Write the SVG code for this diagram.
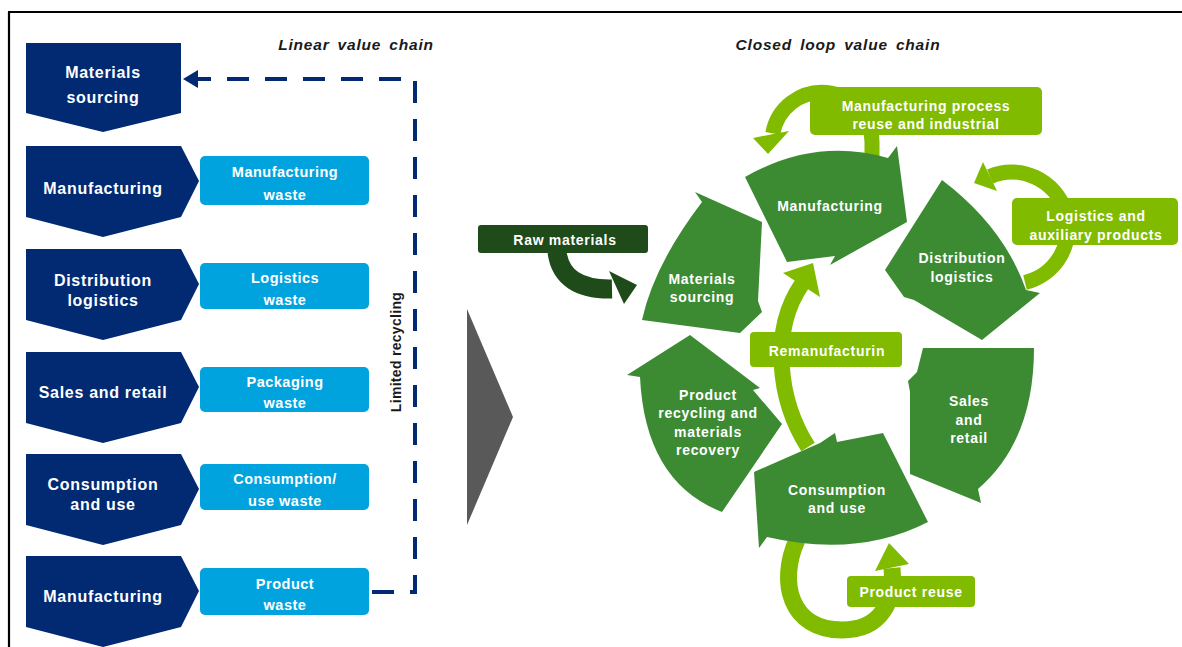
<svg xmlns="http://www.w3.org/2000/svg" width="1182" height="647" viewBox="0 0 1182 647">
<style>
.nv{fill:#012a72}
.lb{fill:#00a3de}
.sg{fill:#3c8b33}
.lg{fill:#80bb00}
.t{font-family:"Liberation Sans",Arial,sans-serif;font-weight:bold;fill:#fff;text-anchor:middle}
.t16{font-size:16px;letter-spacing:0.7px}
.t145{font-size:14.5px;letter-spacing:0.5px}
.t14{font-size:14px;letter-spacing:0.7px}
.ttl{font-family:"Liberation Sans",Arial,sans-serif;font-weight:bold;font-style:italic;font-size:15.5px;letter-spacing:0.8px;word-spacing:3px;fill:#1a1a1a;text-anchor:middle}
.arc{fill:none;stroke:#80bb00}
</style>
<rect width="1182" height="647" fill="#fff"/>
<g id="frame">
<path d="M8,12 H1182 M9,12 V647" fill="none" stroke="#000" stroke-width="2.2"/>
</g>
<text class="ttl" x="356" y="50">Linear value chain</text>
<text class="ttl" x="838" y="50">Closed loop value chain</text>

<g id="connectors">
<path d="M372,592 H415 V79 H196" fill="none" stroke="#012a72" stroke-width="4" stroke-dasharray="22 16"/>
<polygon points="183,79 198,70 198,88" fill="#012a72"/>
<text x="0" y="0" transform="translate(401,352) rotate(-90)" font-family="Liberation Sans,Arial,sans-serif" font-weight="bold" font-size="14" letter-spacing="0.3" fill="#1a1a1a" text-anchor="middle">Limited recycling</text>
<!-- closed-loop arrows -->
<path class="arc" stroke-width="15" d="M872,160 L872,142 A50,50 0 0 0 772.8,133.3"/>
<polygon class="lg" points="753,138 789,131 768,154"/>
<path class="arc" stroke-width="15" d="M1025,282.5 A56,56 0 1 0 990,176.5"/>
<polygon class="lg" points="983,162 997,191 974,183"/>
<path class="arc" stroke-width="16" d="M808,447 C778,400 770,330 802,284"/>
<polygon class="lg" points="783,273 820,297 813,263"/>
<path class="arc" stroke-width="17" d="M797,540 C778,582 790,630 842,630 C882,630 895,600 892,568"/>
<polygon class="lg" points="875,571 909,564 889,543"/>
<path d="M557,252 Q562,290 612,289" fill="none" stroke="#1e4b19" stroke-width="19"/>
<polygon points="609,271 637,285 624,304" fill="#1e4b19"/>
</g>

<g id="materials-sourcing-linear">
<path class="nv" d="M26,43 H181 V113 L103,132 L26,113 Z"/>
<text class="t t16" x="103" y="78">Materials</text>
<text class="t t16" x="103" y="103">sourcing</text>
</g>
<g id="manufacturing-linear">
<path class="nv" d="M26,146 H181 L199,181 L181,217 L103,237 L26,217 Z"/>
<text class="t t16" x="103" y="194">Manufacturing</text>
</g>
<g id="distribution-linear">
<path class="nv" d="M26,249 H181 L199,284 L181,320 L103,340 L26,320 Z"/>
<text class="t t16" x="103" y="286">Distribution</text>
<text class="t t16" x="103" y="306">logistics</text>
</g>
<g id="sales-linear">
<path class="nv" d="M26,352 H181 L199,387 L181,423 L103,443 L26,423 Z"/>
<text class="t t16" x="103" y="398">Sales and retail</text>
</g>
<g id="consumption-linear">
<path class="nv" d="M26,454 H181 L199,489 L181,525 L103,545 L26,525 Z"/>
<text class="t t16" x="103" y="490">Consumption</text>
<text class="t t16" x="103" y="510">and use</text>
</g>
<g id="manufacturing2-linear">
<path class="nv" d="M26,556 H181 L199,591 L181,627 L103,647 L26,627 Z"/>
<text class="t t16" x="103" y="602">Manufacturing</text>
</g>

<g id="manufacturing-waste">
<rect class="lb" x="200" y="156" width="169" height="49" rx="5"/>
<text class="t t145" x="285" y="177">Manufacturing</text>
<text class="t t145" x="285" y="200">waste</text>
</g>
<g id="logistics-waste">
<rect class="lb" x="200" y="263" width="169" height="46" rx="5"/>
<text class="t t145" x="285" y="283">Logistics</text>
<text class="t t145" x="285" y="305">waste</text>
</g>
<g id="packaging-waste">
<rect class="lb" x="200" y="367" width="169" height="45" rx="5"/>
<text class="t t145" x="285" y="387">Packaging</text>
<text class="t t145" x="285" y="408">waste</text>
</g>
<g id="consumption-waste">
<rect class="lb" x="200" y="464" width="169" height="46" rx="5"/>
<text class="t t145" x="285" y="484">Consumption/</text>
<text class="t t145" x="285" y="506">use waste</text>
</g>
<g id="product-waste">
<rect class="lb" x="200" y="568" width="169" height="47" rx="5"/>
<text class="t t145" x="285" y="589">Product</text>
<text class="t t145" x="285" y="610">waste</text>
</g>

<g id="transition-arrow">
<polygon points="467,309 513,417 467,525" fill="#595959"/>
</g>

<g id="raw-materials">
<rect x="478" y="225" width="170" height="28" rx="3" fill="#1e4b19"/>
<text class="t t14" x="565" y="245">Raw materials</text>
</g>

<g id="materials-sourcing">
<path class="sg" d="M642,320 Q654,265 702,202 L695,192 L762,222 L758,301 L762,312 L740,333 Z"/>
<text class="t t14" x="702" y="284">Materials</text>
<text class="t t14" x="702" y="302">sourcing</text>
</g>
<g id="manufacturing">
<path class="sg" d="M745,177 Q815,137 888,158 L897,146 L907,222 L830,265 L835,256 L787,262 Z"/>
<text class="t t14" x="830" y="211">Manufacturing</text>
</g>
<g id="distribution-logistics">
<path class="sg" d="M942,180 Q1004,227 1026,290 L1040,293 L982,340 L914,300 L904,297 L885,270 Z"/>
<text class="t t14" x="962" y="263">Distribution</text>
<text class="t t14" x="962" y="282">logistics</text>
</g>
<g id="sales-retail">
<path class="sg" d="M923,348 L1034,348 Q1034,441 978,489 L981,503 L910,474 L910,392 L908,381 L917,372 Z"/>
<text class="t t14" x="969" y="406">Sales</text>
<text class="t t14" x="969" y="425">and</text>
<text class="t t14" x="969" y="443">retail</text>
</g>
<g id="consumption-use">
<path class="sg" d="M754,472 L820,443 L835,433 L837,442 L883,433 L928,522 Q858,558 767,537 L759,548 Z"/>
<text class="t t14" x="837" y="495">Consumption</text>
<text class="t t14" x="837" y="513">and use</text>
</g>
<g id="product-recycling">
<path class="sg" d="M690,335 L760,388 L753,390 L782,424 L722,512 Q645,482 640,377 L627,375 Z"/>
<text class="t t14" x="708" y="400">Product</text>
<text class="t t14" x="708" y="418">recycling and</text>
<text class="t t14" x="708" y="437">materials</text>
<text class="t t14" x="708" y="455">recovery</text>
</g>

<g id="manufacturing-process-reuse">
<rect class="lg" x="810" y="87" width="232" height="48" rx="5"/>
<text class="t t14" x="926" y="111">Manufacturing process</text>
<text class="t t14" x="926" y="129">reuse and industrial</text>
</g>
<g id="logistics-auxiliary">
<rect class="lg" x="1012" y="198" width="166" height="47" rx="5"/>
<text class="t t14" x="1096" y="221">Logistics and</text>
<text class="t t14" x="1096" y="240">auxiliary products</text>
</g>
<g id="remanufacturing">
<rect class="lg" x="750" y="332" width="152" height="35" rx="4"/>
<text class="t t14" x="827" y="356">Remanufacturin</text>
</g>
<g id="product-reuse">
<rect class="lg" x="847" y="576" width="128" height="31" rx="4"/>
<text class="t t14" x="911" y="597">Product reuse</text>
</g>
</svg>
